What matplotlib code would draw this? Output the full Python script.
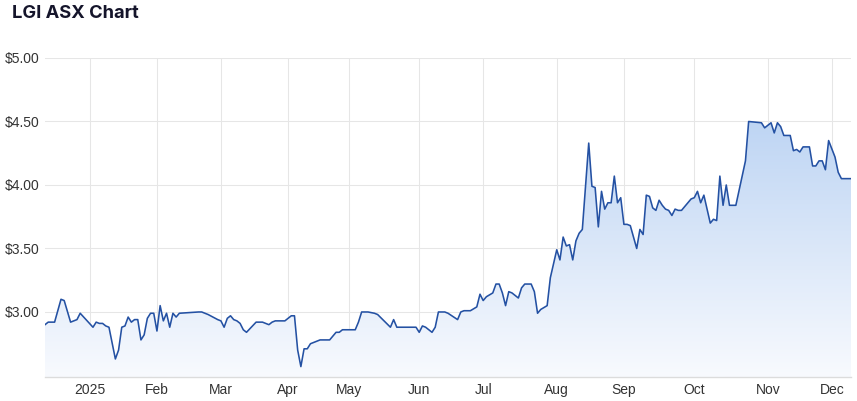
import numpy as np
import matplotlib
matplotlib.use('Agg')
import matplotlib.pyplot as plt
from matplotlib.colors import LinearSegmentedColormap
from matplotlib.patches import PathPatch

# ASX trading days (ordinal axis like the source chart)
holidays = ['2024-12-25', '2024-12-26', '2025-01-01', '2025-01-27',
            '2025-04-18', '2025-04-21', '2025-04-25', '2025-06-09']
first_day = '2024-12-10'
last_day = '2025-12-09'

dates = [
    '2024-12-10', '2024-12-11', '2024-12-12', '2024-12-13', '2024-12-17', '2024-12-18',
    '2024-12-20', '2024-12-24', '2024-12-27', '2025-01-03', '2025-01-06', '2025-01-07',
    '2025-01-08', '2025-01-09', '2025-01-10', '2025-01-14', '2025-01-15', '2025-01-16',
    '2025-01-17', '2025-01-20', '2025-01-21', '2025-01-22', '2025-01-23', '2025-01-24',
    '2025-01-28', '2025-01-29', '2025-01-30', '2025-01-31', '2025-02-03', '2025-02-04',
    '2025-02-05', '2025-02-06', '2025-02-07', '2025-02-10', '2025-02-11', '2025-02-12',
    '2025-02-20', '2025-02-21', '2025-02-25', '2025-02-28', '2025-03-03', '2025-03-04',
    '2025-03-05', '2025-03-06', '2025-03-07', '2025-03-10', '2025-03-11', '2025-03-12',
    '2025-03-13', '2025-03-18', '2025-03-20', '2025-03-24', '2025-03-25', '2025-03-26',
    '2025-03-31', '2025-04-02', '2025-04-03', '2025-04-04', '2025-04-07', '2025-04-08',
    '2025-04-09', '2025-04-10', '2025-04-11', '2025-04-15', '2025-04-22', '2025-04-23',
    '2025-04-24', '2025-04-28', '2025-04-29', '2025-04-30', '2025-05-05', '2025-05-06',
    '2025-05-07', '2025-05-09', '2025-05-13', '2025-05-14', '2025-05-20', '2025-05-21',
    '2025-05-22', '2025-05-27', '2025-05-28', '2025-05-30', '2025-06-02', '2025-06-03',
    '2025-06-04', '2025-06-06', '2025-06-10', '2025-06-11', '2025-06-13', '2025-06-16',
    '2025-06-19', '2025-06-20', '2025-06-23', '2025-06-25', '2025-06-27', '2025-06-30',
    '2025-07-01', '2025-07-02', '2025-07-04', '2025-07-07', '2025-07-08', '2025-07-09',
    '2025-07-10', '2025-07-11', '2025-07-14', '2025-07-16', '2025-07-17', '2025-07-18',
    '2025-07-22', '2025-07-23', '2025-07-24', '2025-07-25', '2025-07-29', '2025-07-30',
    '2025-08-01', '2025-08-04', '2025-08-05', '2025-08-06', '2025-08-07', '2025-08-08',
    '2025-08-11', '2025-08-12', '2025-08-13', '2025-08-15', '2025-08-18', '2025-08-19',
    '2025-08-20', '2025-08-21', '2025-08-22', '2025-08-25', '2025-08-26', '2025-08-27',
    '2025-08-28', '2025-08-29', '2025-09-01', '2025-09-02', '2025-09-03', '2025-09-05',
    '2025-09-08', '2025-09-09', '2025-09-10', '2025-09-11', '2025-09-12', '2025-09-15',
    '2025-09-16', '2025-09-17', '2025-09-18', '2025-09-19', '2025-09-22', '2025-09-23',
    '2025-09-24', '2025-09-25', '2025-09-26', '2025-09-30', '2025-10-01', '2025-10-02',
    '2025-10-03', '2025-10-06', '2025-10-08', '2025-10-09', '2025-10-10', '2025-10-13',
    '2025-10-14', '2025-10-15', '2025-10-16', '2025-10-20', '2025-10-23', '2025-10-24',
    '2025-10-30', '2025-10-31', '2025-11-04', '2025-11-05', '2025-11-06', '2025-11-07',
    '2025-11-10', '2025-11-12', '2025-11-13', '2025-11-14', '2025-11-17', '2025-11-18',
    '2025-11-20', '2025-11-21', '2025-11-24', '2025-11-25', '2025-11-26', '2025-11-27',
    '2025-11-28', '2025-12-02', '2025-12-03', '2025-12-04', '2025-12-08', '2025-12-09',
]
prices = [
    2.90, 2.92, 2.92, 2.92, 3.10, 3.09,
    2.92, 2.94, 2.99, 2.88, 2.92, 2.91,
    2.91, 2.89, 2.88, 2.63, 2.70, 2.88,
    2.89, 2.96, 2.92, 2.94, 2.94, 2.78,
    2.82, 2.95, 2.99, 2.99, 2.85, 3.05,
    2.93, 2.99, 2.88, 2.99, 2.96, 2.99,
    3.00, 3.00, 2.98, 2.94, 2.93, 2.88,
    2.95, 2.97, 2.94, 2.93, 2.91, 2.86,
    2.84, 2.92, 2.92, 2.90, 2.92, 2.93,
    2.93, 2.97, 2.97, 2.70, 2.57, 2.71,
    2.71, 2.75, 2.76, 2.78, 2.78, 2.81,
    2.84, 2.84, 2.86, 2.86, 2.86, 2.92,
    3.00, 3.00, 2.99, 2.98, 2.88, 2.94,
    2.88, 2.88, 2.88, 2.88, 2.84, 2.89,
    2.88, 2.84, 2.88, 3.00, 3.00, 2.99,
    2.94, 3.00, 3.01, 3.01, 3.04, 3.14,
    3.09, 3.12, 3.15, 3.22, 3.22, 3.15,
    3.05, 3.16, 3.15, 3.11, 3.19, 3.22,
    3.22, 3.16, 2.99, 3.02, 3.05, 3.27,
    3.49, 3.41, 3.59, 3.52, 3.53, 3.41,
    3.56, 3.62, 3.65, 4.33, 3.99, 3.98,
    3.67, 3.95, 3.81, 3.86, 3.86, 4.07,
    3.86, 3.90, 3.69, 3.69, 3.68, 3.50,
    3.65, 3.61, 3.92, 3.91, 3.82, 3.80,
    3.88, 3.84, 3.81, 3.80, 3.76, 3.81,
    3.80, 3.80, 3.83, 3.89, 3.90, 3.95,
    3.86, 3.92, 3.70, 3.73, 3.72, 4.07,
    3.84, 4.00, 3.84, 3.84, 4.19, 4.50,
    4.49, 4.45, 4.49, 4.41, 4.49, 4.46,
    4.39, 4.39, 4.27, 4.28, 4.26, 4.30,
    4.30, 4.15, 4.15, 4.19, 4.19, 4.12,
    4.35, 4.22, 4.10, 4.05, 4.05, 4.05,
]

month_starts = ['2025-01-01', '2025-02-01', '2025-03-01', '2025-04-01', '2025-05-01', '2025-06-01',
                '2025-07-01', '2025-08-01', '2025-09-01', '2025-10-01', '2025-11-01', '2025-12-01']
month_labels = ['2025', 'Feb', 'Mar', 'Apr', 'May', 'Jun', 'Jul', 'Aug', 'Sep', 'Oct', 'Nov', 'Dec']
y_ticks = [3.0, 3.5, 4.0, 4.5, 5.0]
y_labels = ['$3.00', '$3.50', '$4.00', '$4.50', '$5.00']


def tday(d):
    return np.busday_count(first_day, d, holidays=holidays)


x = np.array([tday(d) for d in dates])
y = np.array(prices)
x0, x1 = 0, tday(last_day)
ymin, ymax = 2.488, 5.0

plt.rcParams['font.family'] = ['Inter', 'DejaVu Sans']

fig = plt.figure(figsize=(8.57, 4.01), dpi=100)
ax = fig.add_axes([45 / 857, 24 / 401, 806 / 857, 319 / 401])

# gradient area under the line
poly = ax.fill_between(x, y, ymin, color='none', lw=0)
clip = PathPatch(poly.get_paths()[0], transform=ax.transData, facecolor='none', edgecolor='none')
ax.add_patch(clip)
cmap = LinearSegmentedColormap.from_list('area', ['#f8fafe', '#b0ccf1'])
grad = np.linspace(0, 1, 256).reshape(-1, 1)
img = ax.imshow(grad, extent=[x0, x1, ymin, ymax], aspect='auto', origin='lower',
                cmap=cmap, zorder=1)
img.set_clip_path(clip)

ax.plot(x, y, color='#2451a3', lw=1.15, zorder=3, solid_joinstyle='round')

ax.set_xlim(x0, x1)
ax.set_ylim(ymin, ymax)

ax.set_xticks([tday(d) for d in month_starts])
ax.set_xticklabels(month_labels)
ax.set_yticks(y_ticks)
ax.set_yticklabels(y_labels)
ax.tick_params(axis='both', length=0, labelsize=10, colors='#333333')
ax.tick_params(axis='x', pad=4)
ax.tick_params(axis='y', pad=0)
for lbl in ax.get_xticklabels() + ax.get_yticklabels():
    lbl.set_family(['Liberation Sans', 'DejaVu Sans'])
for lbl in ax.get_yticklabels():
    lbl.set_horizontalalignment('left')
    lbl.set_x(-40 / 806)

ax.grid(True, color='#e6e6e6', lw=0.75, zorder=0)
ax.set_axisbelow(True)
for side in ['top', 'right', 'left']:
    ax.spines[side].set_visible(False)
ax.spines['bottom'].set_color('#dcdcdc')
ax.spines['bottom'].set_linewidth(1)

fig.text(12 / 857, 1 - 14 / 401, 'LGI ASX Chart', fontsize=13.2, fontweight='bold',
         color='#15152b', va='center', ha='left')

fig.savefig('out.png', dpi=100)
